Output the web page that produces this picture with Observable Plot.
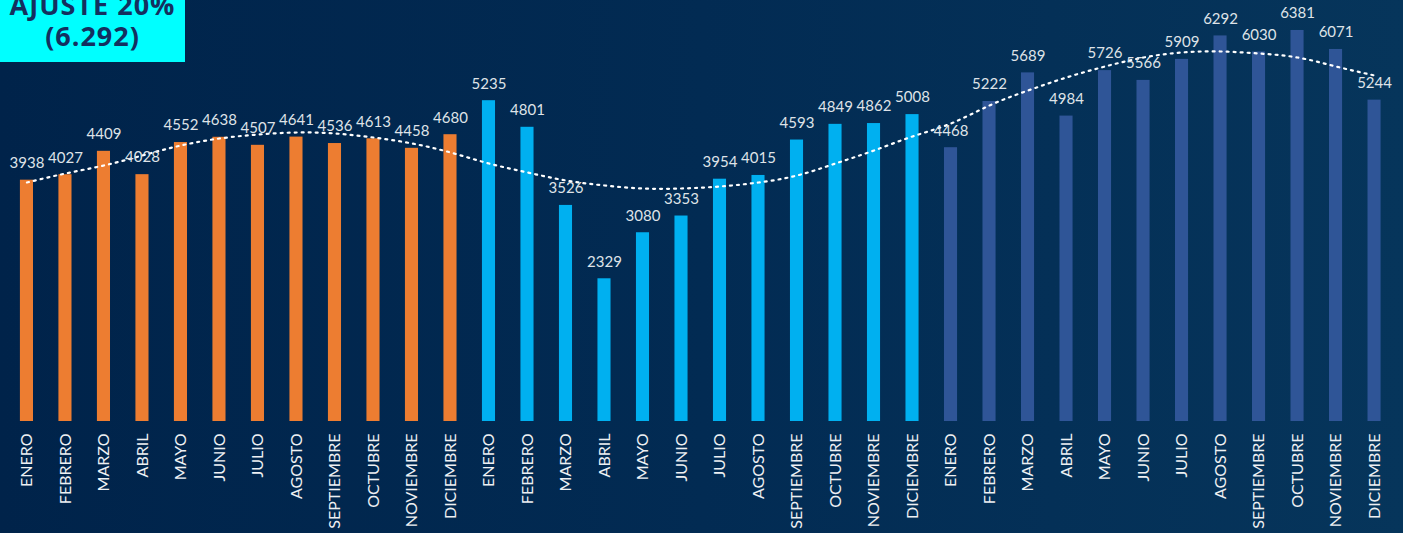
<!DOCTYPE html>
<html><head><meta charset="utf-8">
<script src="https://cdn.jsdelivr.net/npm/d3@7"></script>
<script src="https://cdn.jsdelivr.net/npm/@observablehq/plot@0.6"></script>
<style>
html,body{margin:0;padding:0;width:1403px;height:533px;overflow:hidden;background:linear-gradient(90deg,#00234a 0%,#022b53 50%,#06355b 100%);}
#wrap{position:relative;width:1403px;height:533px;}
#box{position:absolute;left:0;top:0;width:185px;height:62px;background:#00ffff;color:#14305f;font-family:"Open Sans",sans-serif;font-weight:700;font-size:27px;line-height:31px;text-align:center;overflow:hidden;z-index:2}
#box .in{margin-top:-11px;letter-spacing:1px}
</style></head><body>
<div id="wrap"><div id="box"><div class="in">AJUSTE 20%<br>(6.292)</div></div><div id="chart"></div></div>
<script>
const months = ["ENERO","FEBRERO","MARZO","ABRIL","MAYO","JUNIO","JULIO","AGOSTO","SEPTIEMBRE","OCTUBRE","NOVIEMBRE","DICIEMBRE"];
const serieA = [3938,4027,4409,4028,4552,4638,4507,4641,4536,4613,4458,4680];
const serieB = [5235,4801,3526,2329,3080,3353,3954,4015,4593,4849,4862,5008];
const serieC = [4468,5222,5689,4984,5726,5566,5909,6292,6030,6381,6071,5244];
const seriesNames = ["A","B","C"];
const seriesColors = ["#ED7D31","#00B0F0","#2F5597"];
const trend = [3900,4047,4178,4341,4504,4618,4683,4716,4700,4634,4537,4390,
               4210,4063,3933,3851,3802,3802,3835,3900,4014,4210,4422,4651,
               4863,5157,5401,5614,5793,5940,6022,6038,6005,5940,5793,5646];

const rows = [];
[serieA, serieB, serieC].forEach((arr, s) => arr.forEach((v, m) => rows.push({i: s*12+m, v, s: seriesNames[s]})));
const trendRows = trend.map((t, i) => ({i, t}));

const chart = Plot.plot({
  width: 1403, height: 533,
  marginTop: 0, marginBottom: 112, marginLeft: 0, marginRight: 0,
  style: {background: "transparent", color: "#eef0f3", fontFamily: "Lato, sans-serif", overflow: "visible"},
  x: {type: "band", domain: d3.range(36), padding: 0.66, round: false, range: [-5.5, 1406]},
  y: {domain: [0, 6870], axis: null},
  color: {domain: seriesNames, range: seriesColors},
  marks: [
    Plot.barY(rows, {x: "i", y: "v", fill: "s"}),
    Plot.line(trendRows, {x: "i", y: "t", curve: "natural", stroke: "white", strokeWidth: 2.2, strokeDasharray: "2,5"}),
    Plot.text(rows, {x: "i", y: "v", text: d => String(d.v), dy: -17, fill: "#dfe3e8", fontSize: 15}),
    Plot.axisX({tickRotate: -90, tickSize: 0, tickPadding: 12, tickFormat: i => months[i % 12], fontSize: 16, label: null})
  ]
});
document.getElementById("chart").appendChild(chart);
</script>
</body></html>
